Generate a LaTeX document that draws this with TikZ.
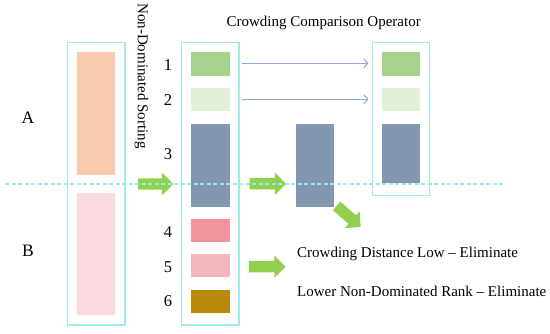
\documentclass[tikz,border=0pt]{standalone}
\usepackage{fontspec}
\setmainfont{Liberation Serif}
\usetikzlibrary{shapes.arrows,arrows.meta}
\definecolor{frame}{HTML}{9EEBEA}
\definecolor{dashc}{HTML}{9FE9E6}
\definecolor{peach}{HTML}{F8CBAD}
\definecolor{lpink}{HTML}{FADADE}
\definecolor{gA}{HTML}{A9D18E}
\definecolor{gB}{HTML}{E2F0D9}
\definecolor{slate}{HTML}{8497B0}
\definecolor{rose}{HTML}{F0939C}
\definecolor{pinkc}{HTML}{F4B7BF}
\definecolor{olive}{HTML}{B8890A}
\definecolor{garrow}{HTML}{92D050}
\definecolor{barrow}{HTML}{8FAADC}
\tikzset{
  frm/.style={draw=frame, line width=1.1pt, fill=none},
  blk/.style={inner sep=0pt, outer sep=0pt, anchor=north west, minimum width=38.5pt},
  garr/.style={single arrow, fill=garrow, draw=none, inner sep=5.5pt, minimum width=22pt, single arrow head extend=5.5pt, single arrow tip angle=90, anchor=center},
  tarr/.style={draw=barrow, line width=1pt, -{Straight Barb[length=4pt,width=9pt,line width=1pt]}},
  num/.style={font=\fontsize{16.5}{18}\selectfont, inner sep=0pt},
  side/.style={font=\fontsize{17.5}{19}\selectfont, inner sep=0pt},
  lbl/.style={font=\fontsize{15}{17}\selectfont, inner sep=0pt},
}
\begin{document}
\begin{tikzpicture}[x=1pt,y=-1pt]
\useasboundingbox (0,0) rectangle (550,334);
% frames
\draw[frm] (67.7,42.3) rectangle (125,325);
\draw[frm] (181.7,42.3) rectangle (239,325);
\draw[frm] (372.3,42.3) rectangle (429.7,195.7);
% left column
\node[blk, fill=peach, minimum width=38pt, minimum height=122.7pt] (pa) at (77.3,52.3) {};
\node[blk, fill=lpink, minimum width=38pt, minimum height=122.3pt] (pb) at (77.3,192.7) {};
% middle column
\node[blk, fill=gA, minimum height=23.4pt] (r1) at (191,52.3) {};
\node[blk, fill=gB, minimum height=22.4pt] (r2) at (191,88.3) {};
\node[blk, fill=slate, minimum height=83.6pt] (r3) at (191,123.7) {};
\node[blk, fill=rose, minimum height=23pt] (r4) at (191,219.3) {};
\node[blk, fill=pinkc, minimum height=23pt] (r5) at (191,254.3) {};
\node[blk, fill=olive, minimum height=23pt] (r6) at (191,289.7) {};
% middle standalone
\node[blk, fill=slate, minimum height=83.6pt] (m3) at (295.7,123.7) {};
% right column
\node[blk, fill=gA, minimum height=23.4pt] (q1) at (381.7,52.3) {};
\node[blk, fill=gB, minimum height=22.4pt] (q2) at (381.7,88.3) {};
\node[blk, fill=slate, minimum height=59.6pt] (q3) at (381.7,123.7) {};
% numbers
\node[num] (n1) at (168,65) {1};
\node[num] (n2) at (168,100) {2};
\node[num] (n3) at (168,154) {3};
\node[num] (n4) at (168,231.7) {4};
\node[num] (n5) at (168,266.7) {5};
\node[num] (n6) at (168,301) {6};
\node[side] (la) at (28,118) {A};
\node[side] (lb) at (28,251) {B};
% titles
\node[lbl, rotate=-90] (nds) at (141.5,76) {Non-Dominated Sorting};
\node[lbl] (cco) at (323.7,23) {Crowding Comparison Operator};
\node[lbl, anchor=west] (t1) at (297,254.3) {Crowding Distance Low – Eliminate};
\node[lbl, anchor=west] (t2) at (297,291) {Lower Non-Dominated Rank – Eliminate};
% thin arrows
\coordinate (s1) at (242.3,63.3);
\coordinate (s2) at (242.3,99.3);
\coordinate (e1) at (368.5,63.3);
\coordinate (e2) at (368.5,99.3);
\draw[tarr] (s1) -- (e1);
\draw[tarr] (s2) -- (e2);
% green arrows
\node[garr, minimum height=35.5pt] (ga1) at (152.8,184) {};
\node[garr, minimum height=36.6pt] (ga2) at (265,183.7) {};
\node[garr, minimum height=36.6pt] (ga3) at (264.4,266.7) {};
\node[garr, minimum height=32pt, rotate=-41] (ga4) at (346.5,214.6) {};
% dashed line
\coordinate (d1) at (5,184);
\coordinate (d2) at (503,184);
\draw[draw=dashc, line width=1.1pt, dash pattern=on 4pt off 2.5pt] (d1) -- (d2);
\end{tikzpicture}
\end{document}
